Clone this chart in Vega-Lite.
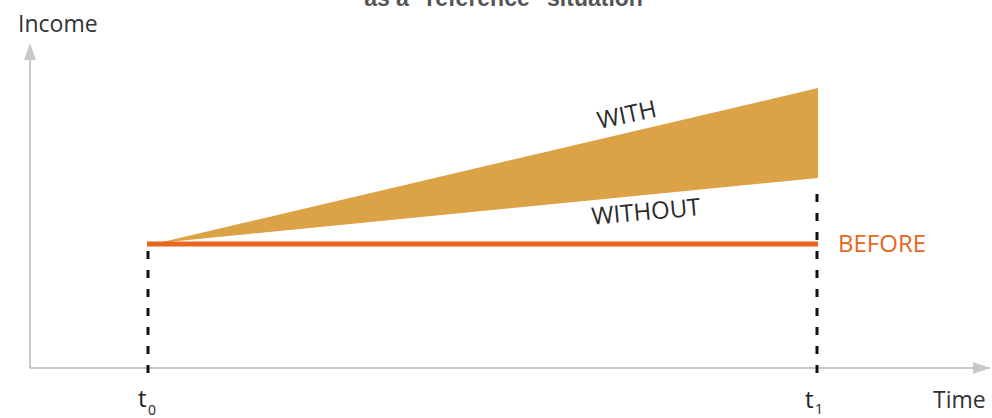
{
  "$schema": "https://vega.github.io/schema/vega-lite/v6.json",
  "width": 992,
  "height": 418,
  "padding": 0,
  "autosize": "none",
  "background": "white",
  "config": {"view": {"stroke": null}},
  "datasets": {
    "axes": [
      {"t": 0, "v": 0, "t2": 960, "v2": 0},
      {"t": 0, "v": 0, "t2": 0, "v2": 318}
    ],
    "arrowX": [{"t": 951.5, "v": 0}],
    "arrowY": [{"t": 0, "v": 316.5}],
    "band": [
      {"t": 128, "v": 125, "v2": 125},
      {"t": 788, "v": 280, "v2": 190}
    ],
    "dashes": [
      {"t": 118, "v": -5, "v2": 124},
      {"t": 787, "v": -5, "v2": 180}
    ],
    "before": [{"t": 117, "v": 124, "t2": 788}],
    "axisLabels": [
      {"t": -12, "v": 336, "label": "Income"},
      {"t": 903, "v": -40, "label": "Time"}
    ],
    "tLabels": [
      {"t": 108, "v": -39, "label": "t"},
      {"t": 775, "v": -40, "label": "t"}
    ],
    "subs": [
      {"t": 118, "v": -47, "label": "0"},
      {"t": 785, "v": -46, "label": "1"}
    ],
    "beforeLabel": [{"t": 808, "v": 123, "label": "BEFORE"}],
    "withLabel": [{"t": 597, "v": 252, "label": "WITH"}],
    "withoutLabel": [{"t": 616, "v": 155, "label": "WITHOUT"}],
    "title": [{"t": 473.5, "v": 362, "label": "as a \"reference\" situation"}]
  },
  "encoding": {
    "x": {"field": "t", "type": "quantitative", "scale": {"domain": [-30, 962], "nice": false, "zero": false}, "axis": null},
    "y": {"field": "v", "type": "quantitative", "scale": {"domain": [-50, 368], "nice": false, "zero": false}, "axis": null}
  },
  "layer": [
    {
      "data": {"name": "axes"},
      "mark": {"type": "rule", "color": "#c8c8c8", "strokeWidth": 2},
      "encoding": {"x2": {"field": "t2"}, "y2": {"field": "v2"}}
    },
    {
      "data": {"name": "arrowX"},
      "mark": {"type": "point", "shape": "M1,0L-1,-0.7L-1,0.7Z", "size": 289, "filled": true, "color": "#c8c8c8", "opacity": 1, "strokeWidth": 0}
    },
    {
      "data": {"name": "arrowY"},
      "mark": {"type": "point", "shape": "M0,-1L0.7,1L-0.7,1Z", "size": 289, "filled": true, "color": "#c8c8c8", "opacity": 1, "strokeWidth": 0}
    },
    {
      "data": {"name": "band"},
      "mark": {"type": "area", "color": "#dca246", "opacity": 1},
      "encoding": {"y2": {"field": "v2"}}
    },
    {
      "data": {"name": "dashes"},
      "mark": {"type": "rule", "color": "#111111", "strokeWidth": 3, "strokeDash": [8, 11]},
      "encoding": {"y2": {"field": "v2"}}
    },
    {
      "data": {"name": "before"},
      "mark": {"type": "rule", "color": "#e8661e", "strokeWidth": 5, "strokeCap": "butt"},
      "encoding": {"x2": {"field": "t2"}}
    },
    {
      "data": {"name": "axisLabels"},
      "mark": {"type": "text", "align": "left", "baseline": "alphabetic", "font": "Open Sans", "fontSize": 23, "color": "#333333"},
      "encoding": {"text": {"field": "label"}}
    },
    {
      "data": {"name": "tLabels"},
      "mark": {"type": "text", "align": "left", "baseline": "alphabetic", "font": "Open Sans", "fontSize": 24, "color": "#222222"},
      "encoding": {"text": {"field": "label"}}
    },
    {
      "data": {"name": "subs"},
      "mark": {"type": "text", "align": "left", "baseline": "alphabetic", "font": "Open Sans", "fontSize": 14, "color": "#222222"},
      "encoding": {"text": {"field": "label"}}
    },
    {
      "data": {"name": "beforeLabel"},
      "mark": {"type": "text", "align": "left", "baseline": "middle", "font": "Open Sans", "fontSize": 24, "color": "#e8661e"},
      "encoding": {"text": {"field": "label"}}
    },
    {
      "data": {"name": "withLabel"},
      "mark": {"type": "text", "align": "center", "baseline": "middle", "font": "Open Sans", "fontSize": 24, "color": "#2a2a2a", "angle": -12},
      "encoding": {"text": {"field": "label"}}
    },
    {
      "data": {"name": "withoutLabel"},
      "mark": {"type": "text", "align": "center", "baseline": "middle", "font": "Open Sans", "fontSize": 24, "color": "#2a2a2a", "angle": -5},
      "encoding": {"text": {"field": "label"}}
    },
    {
      "data": {"name": "title"},
      "mark": {"type": "text", "align": "center", "baseline": "alphabetic", "font": "Liberation Sans", "fontWeight": "bold", "fontSize": 23, "color": "#555555"},
      "encoding": {"text": {"field": "label"}}
    }
  ]
}
